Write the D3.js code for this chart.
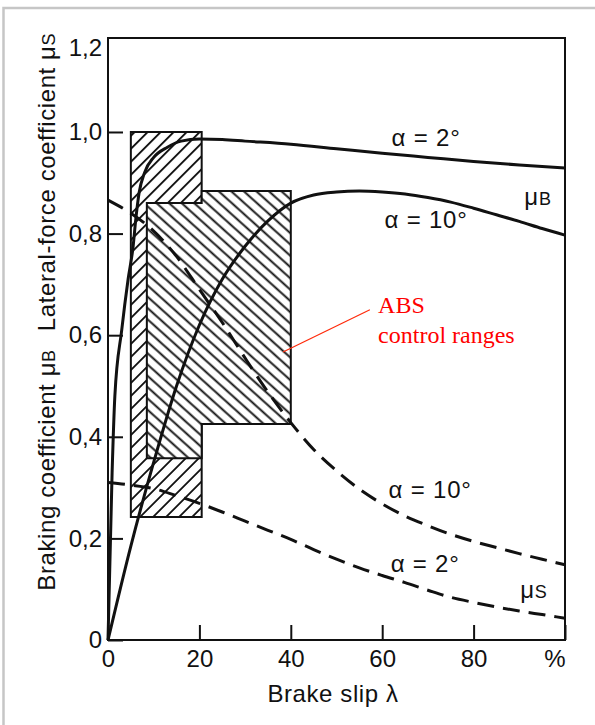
<!DOCTYPE html>
<html>
<head>
<meta charset="utf-8">
<script src="https://cdn.jsdelivr.net/npm/d3@7"></script>
<style>
body { margin: 0; background: #fff; }
svg text { font-family: "Liberation Sans", Arial, sans-serif; fill: #111; }
</style>
</head>
<body>
<div class="holder"></div>
<script>
var width = 595,
height = 725,
fontSize = 24;

// brake slip in %
var slip = [0,5,10,15,20,25,30,35,40,45,50,55,60,65,70,75,80,85,90,95,100];
var muB10 = [0,0.185,0.35,0.5,0.62,0.71,0.775,0.825,0.86,0.876,0.882,0.884,0.882,0.878,0.871,0.862,0.85,0.837,0.824,0.81,0.797];
var muS10 = [0.866,0.84,0.805,0.755,0.69,0.625,0.555,0.488,0.428,0.375,0.333,0.297,0.268,0.244,0.225,0.208,0.194,0.182,0.17,0.159,0.148];
var muS2 = [0.31,0.305,0.298,0.284,0.269,0.252,0.234,0.216,0.198,0.178,0.159,0.142,0.127,0.113,0.098,0.084,0.074,0.065,0.057,0.05,0.043];

// alpha = 2 deg braking curve rises very fast, needs its own slip points
var slipB2 = [0,0.9,1.5,3,4.4,5.5,6.1,6.8,8,10,13,16,20,25,30,40,50,60,70,80,90,100];
var muB2 = [0,0.33,0.48,0.61,0.71,0.775,0.83,0.88,0.92,0.95,0.97,0.982,0.986,0.985,0.982,0.976,0.967,0.958,0.95,0.942,0.935,0.929];

// ABS control ranges [slip, mu] corners
var rangeOuter = [[5,0.242],[20.5,0.242],[20.5,1.0],[5,1.0]];
var rangeInner = [[8.5,0.358],[20.5,0.358],[20.5,0.425],[40,0.425],[40,0.884],[20.5,0.884],[20.5,0.86],[8.5,0.86]];

var xTicks = [0,20,40,60,80,100];
var xTickLabels = ["0","20","40","60","80","%"];
var yTicks = [0,0.2,0.4,0.6,0.8,1.0];
var yTickLabels = ["0","0,2","0,4","0,6","0,8","1,0"];
var yTopLabel = "1,2";
var yMax = 1.185;

var svg = d3.select(".holder").append("svg")
  .attr("width", width)
  .attr("height", height);

// light grey page border
svg.append("rect")
  .attr("x", 3.5)
  .attr("y", 8)
  .attr("width", width + 10)
  .attr("height", height + 10)
  .attr("fill", "none")
  .attr("stroke", "#c6c6c6")
  .attr("stroke-width", 2.5);

var xScale = d3.scaleLinear()
  .domain([0, 100])
  .range([108, 565]);

var yScale = d3.scaleLinear()
  .domain([0, yMax])
  .range([640, 38]);

var defs = svg.append("defs");

defs.append("pattern")
  .attr("id", "hatchUp")
  .attr("patternUnits", "userSpaceOnUse")
  .attr("width", 10)
  .attr("height", 9.2)
  .attr("patternTransform", "rotate(-45)")
  .append("line")
  .attr("x1", 0).attr("x2", 10)
  .attr("y1", 4.6).attr("y2", 4.6)
  .attr("stroke", "#111")
  .attr("stroke-width", 1.9);

defs.append("pattern")
  .attr("id", "hatchDown")
  .attr("patternUnits", "userSpaceOnUse")
  .attr("width", 10)
  .attr("height", 8.4)
  .attr("patternTransform", "rotate(42)")
  .append("line")
  .attr("x1", 0).attr("x2", 10)
  .attr("y1", 4.2).attr("y2", 4.2)
  .attr("stroke", "#111")
  .attr("stroke-width", 1.9);

var poly = d3.line()
  .x(function(d) { return xScale(d[0]); })
  .y(function(d) { return yScale(d[1]); })
  .curve(d3.curveLinearClosed);

svg.append("path")
  .datum(rangeOuter)
  .attr("d", poly)
  .attr("fill", "url(#hatchUp)")
  .attr("stroke", "#111")
  .attr("stroke-width", 2);

svg.append("path")
  .datum(rangeInner)
  .attr("d", poly)
  .attr("fill", "#fff")
  .attr("stroke", "none");

svg.append("path")
  .datum(rangeInner)
  .attr("d", poly)
  .attr("fill", "url(#hatchDown)")
  .attr("stroke", "#111")
  .attr("stroke-width", 2);

// frame
svg.append("rect")
  .attr("x", xScale(0))
  .attr("y", yScale(yMax))
  .attr("width", xScale(100) - xScale(0))
  .attr("height", yScale(0) - yScale(yMax))
  .attr("fill", "none")
  .attr("stroke", "#111")
  .attr("stroke-width", 2);

var xAxis = d3.axisBottom(xScale)
  .tickValues(xTicks)
  .tickSizeInner(-15)
  .tickSizeOuter(0)
  .tickPadding(10)
  .tickFormat(function(d, i) { return xTickLabels[i]; });

var xAxisGroup = svg.append("g")
  .attr("id", "x-axis")
  .attr("transform", "translate(0," + yScale(0) + ")")
  .call(xAxis);

var yAxis = d3.axisLeft(yScale)
  .tickValues(yTicks)
  .tickSizeInner(-15)
  .tickSizeOuter(0)
  .tickPadding(6)
  .tickFormat(function(d, i) { return yTickLabels[i]; });

var yAxisGroup = svg.append("g")
  .attr("id", "y-axis")
  .attr("transform", "translate(" + xScale(0) + ",0)")
  .call(yAxis);

[xAxisGroup, yAxisGroup].forEach(function(g) {
  g.select(".domain").remove();
  g.attr("font-size", fontSize).attr("font-family", null);
  g.selectAll("line").attr("stroke", "#111").attr("stroke-width", 2);
  g.selectAll("text").attr("fill", "#111");
});

xAxisGroup.selectAll(".tick text")
  .filter(function(d) { return d === 100; })
  .attr("text-anchor", "end");

svg.append("text")
  .attr("x", xScale(0) - 6)
  .attr("y", yScale(yMax) + 10)
  .attr("dy", "0.35em")
  .attr("text-anchor", "end")
  .attr("font-size", fontSize)
  .text(yTopLabel);

// curves
var curve = d3.line()
  .x(function(d) { return xScale(d[0]); })
  .y(function(d) { return yScale(d[1]); })
  .curve(d3.curveMonotoneX);

function pairs(xs, ys) {
  return xs.map(function(x, i) { return [x, ys[i]]; });
}

svg.append("path")
  .datum(pairs(slipB2, muB2))
  .attr("d", curve)
  .attr("fill", "none")
  .attr("stroke", "#111")
  .attr("stroke-width", 3);

svg.append("path")
  .datum(pairs(slip, muB10))
  .attr("d", curve)
  .attr("fill", "none")
  .attr("stroke", "#111")
  .attr("stroke-width", 3);

svg.append("path")
  .datum(pairs(slip, muS10))
  .attr("d", curve)
  .attr("fill", "none")
  .attr("stroke", "#111")
  .attr("stroke-width", 3)
  .attr("stroke-dasharray", "17,9");

svg.append("path")
  .datum(pairs(slip, muS2))
  .attr("d", curve)
  .attr("fill", "none")
  .attr("stroke", "#111")
  .attr("stroke-width", 3)
  .attr("stroke-dasharray", "17,9");

// curve labels
function label(x, y, main, sub) {
  var t = svg.append("text")
    .attr("x", xScale(x))
    .attr("y", yScale(y))
    .attr("dy", "0.35em")
    .attr("text-anchor", "middle")
    .attr("font-size", fontSize)
    .attr("letter-spacing", 0.8)
    .text(main);
  if (sub) {
    t.append("tspan").attr("font-size", fontSize * 0.75).text(sub);
  }
}

label(69.6, 0.988, "\u03b1 = 2\u00b0");
label(69.6, 0.827, "\u03b1 = 10\u00b0");
label(94.1, 0.872, "\u03bc", "B");
label(70.5, 0.297, "\u03b1 = 10\u00b0");
label(69.4, 0.15, "\u03b1 = 2\u00b0");
label(93.2, 0.1, "\u03bc", "S");

// axis titles
svg.append("text")
  .attr("x", 333)
  .attr("y", 702)
  .attr("text-anchor", "middle")
  .attr("font-size", fontSize)
  .attr("letter-spacing", 0.6)
  .text("Brake slip \u03bb");

var yt1 = svg.append("text")
  .attr("transform", "translate(55,470) rotate(-90)")
  .attr("text-anchor", "middle")
  .attr("font-size", fontSize)
  .attr("letter-spacing", 0.6)
  .text("Braking coefficient \u03bc");
yt1.append("tspan").attr("font-size", fontSize * 0.75).text("B");

var yt2 = svg.append("text")
  .attr("transform", "translate(55,182) rotate(-90)")
  .attr("text-anchor", "middle")
  .attr("font-size", fontSize)
  .attr("letter-spacing", 0.6)
  .text("Lateral-force coefficient \u03bc");
yt2.append("tspan").attr("font-size", fontSize * 0.75).text("S");

// red ABS annotation
svg.append("line")
  .attr("x1", xScale(57.3)).attr("y1", yScale(0.65))
  .attr("x2", xScale(38.3)).attr("y2", yScale(0.567))
  .attr("stroke", "#ff2a0a")
  .attr("stroke-width", 1.2);

svg.append("text")
  .attr("x", xScale(59.1))
  .attr("y", yScale(0.661))
  .attr("dy", "0.35em")
  .attr("font-size", fontSize)
  .style("font-family", "'Liberation Serif', 'Times New Roman', serif")
  .style("fill", "#ff0000")
  .text("ABS");

svg.append("text")
  .attr("x", xScale(59.1))
  .attr("y", yScale(0.602))
  .attr("dy", "0.35em")
  .attr("font-size", fontSize)
  .style("font-family", "'Liberation Serif', 'Times New Roman', serif")
  .style("fill", "#ff0000")
  .text("control ranges");
</script>
</body>
</html>
